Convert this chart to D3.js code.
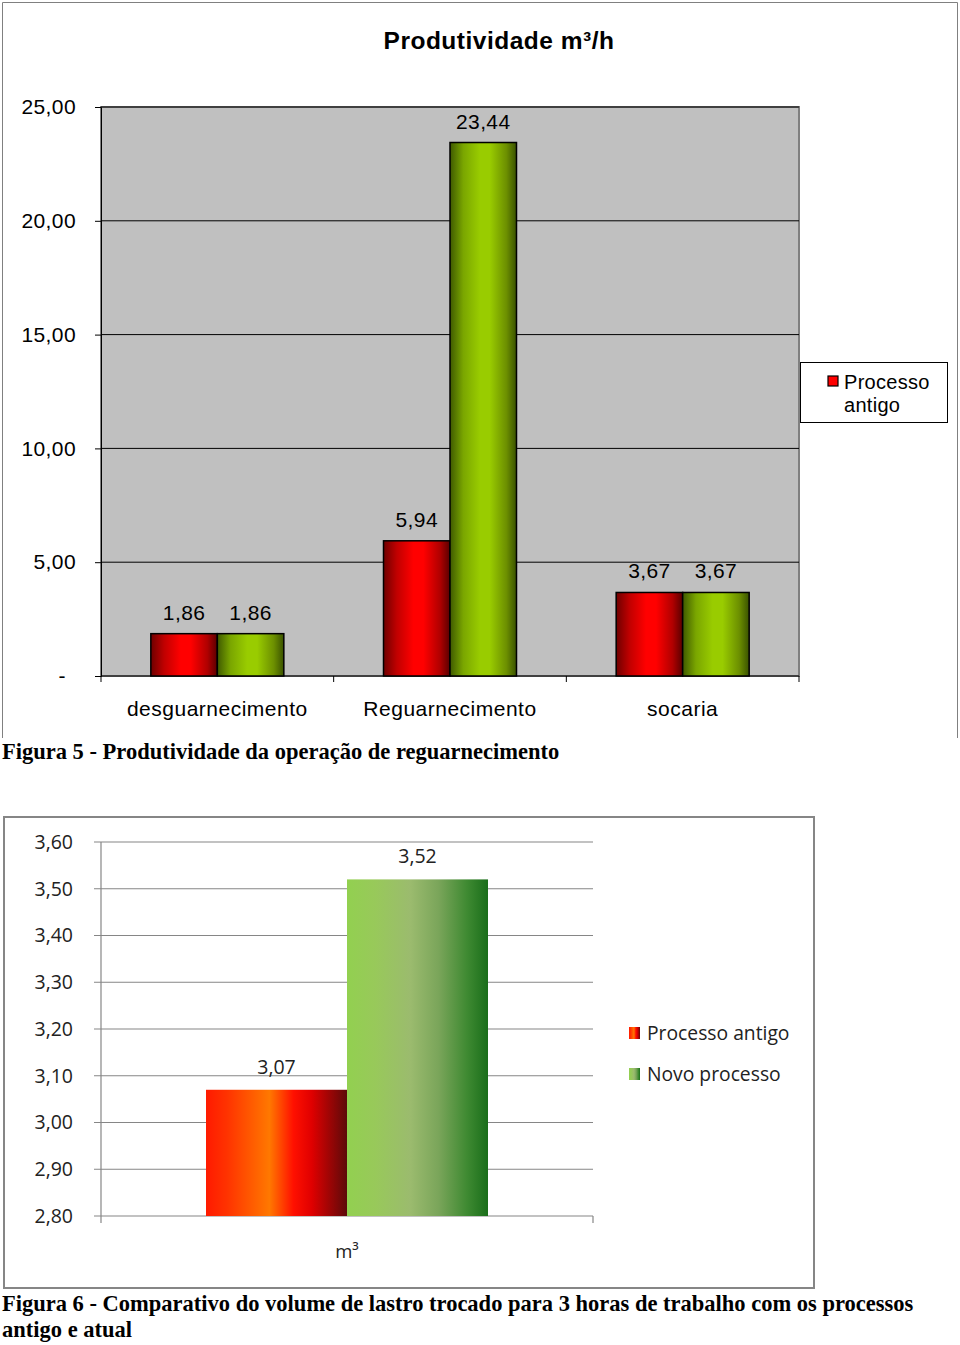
<!DOCTYPE html>
<html>
<head>
<meta charset="utf-8">
<script src="https://cdn.jsdelivr.net/npm/d3@7"></script>
<style>
html,body{margin:0;padding:0;background:#fff;}
svg{display:block;}
</style>
</head>
<body>
<script>
// ---------- DATA ----------
const categories1 = ["desguarnecimento", "Reguarnecimento", "socaria"];
const antigo1 = [1.86, 5.94, 3.67];
const novo1 = [1.86, 23.44, 3.67];
const yTicks1 = [0, 5, 10, 15, 20, 25];
const title1 = "Produtividade m³/h";
const legend1 = ["Processo", "antigo"];
const caption1 = "Figura 5 - Produtividade da operação de reguarnecimento";

const categories2 = ["m³"];
const antigo2 = [3.07];
const novo2 = [3.52];
const yTicks2 = [2.8, 2.9, 3.0, 3.1, 3.2, 3.3, 3.4, 3.5, 3.6];
const legend2 = ["Processo antigo", "Novo processo"];
const caption2a = "Figura 6 - Comparativo do volume de lastro trocado para 3 horas de trabalho com os processos";
const caption2b = "antigo e atual";

const fmt = v => d3.format(".2f")(v).replace(".", ",");
const F1 = "Liberation Sans, Arial";
const F2 = "Open Sans, Lato";
const FS = "Liberation Serif, Times New Roman";

const svg = d3.select("body").append("svg").attr("width", 960).attr("height", 1345);
const defs = svg.append("defs");

function grad(id, stops) {
  const g = defs.append("linearGradient").attr("id", id).attr("x1", "0%").attr("x2", "100%").attr("y1", "0%").attr("y2", "0%");
  stops.forEach(s => g.append("stop").attr("offset", s[0]).attr("stop-color", s[1]));
}
grad("red1", [["0%", "#6e0000"], ["20%", "#c00000"], ["45%", "#ff0000"], ["60%", "#ff0000"], ["85%", "#b00000"], ["100%", "#5a0000"]]);
grad("green1", [["0%", "#3f5a00"], ["20%", "#7aa600"], ["45%", "#99cc00"], ["60%", "#99cc00"], ["85%", "#6c8f00"], ["100%", "#3a5200"]]);
grad("red2", [["0%", "#ff1a00"], ["15%", "#ff3300"], ["45%", "#ff7800"], ["62%", "#ff1000"], ["75%", "#e00000"], ["100%", "#5c0a0a"]]);
grad("green2", [["0%", "#92d050"], ["20%", "#98c95a"], ["45%", "#9bbb6e"], ["65%", "#7aa55a"], ["85%", "#3f8a32"], ["100%", "#1a6e1a"]]);

// ---------- CHART 1 ----------
const c1 = svg.append("g");
c1.append("path").attr("d", "M2.5,738 L2.5,2.5 L957.5,2.5 L957.5,738").attr("fill", "none").attr("stroke", "#808080").attr("stroke-width", 1);

const x1 = d3.scaleBand().domain(categories1).range([101, 799]).paddingInner(0).paddingOuter(0);
const y1 = d3.scaleLinear().domain([0, 25]).range([676, 107]);

c1.append("rect").attr("x", 101).attr("y", y1(25)).attr("width", 698).attr("height", y1(0) - y1(25)).attr("fill", "#c0c0c0");
c1.append("rect").attr("x", 101).attr("y", y1(25)).attr("width", 698).attr("height", y1(0) - y1(25)).attr("fill", "none").attr("stroke", "#808080").attr("stroke-width", 2);

// gridlines
c1.selectAll("line.grid").data(yTicks1.filter(d => d > 0)).enter().append("line")
  .attr("x1", 101).attr("x2", 799).attr("y1", d => y1(d)).attr("y2", d => y1(d))
  .attr("stroke", "#000").attr("stroke-width", 1);

// y axis
const ya1 = d3.axisLeft(y1).tickValues(yTicks1).tickSize(6).tickPadding(19).tickFormat(d => d === 0 ? "-" : fmt(d));
const gy1 = c1.append("g").attr("transform", "translate(101,0)").call(ya1);
gy1.select(".domain").attr("stroke", "#000");
gy1.selectAll(".tick line").attr("stroke", "#000");
gy1.selectAll(".tick text").attr("font-family", F1).attr("font-size", 21).attr("letter-spacing", 0.4).attr("fill", "#000");
gy1.selectAll(".tick text").filter(d => d === 0).attr("dx", -10);

// x axis
c1.append("line").attr("x1", 101).attr("x2", 799).attr("y1", 676).attr("y2", 676).attr("stroke", "#000");
const xt = [101].concat(categories1.map(c => x1(c) + x1.bandwidth()));
c1.selectAll("line.xt").data(xt).enter().append("line").attr("x1", d => d).attr("x2", d => d).attr("y1", 676).attr("y2", 682).attr("stroke", "#000");
c1.selectAll("text.cat").data(categories1).enter().append("text")
  .attr("x", d => x1(d) + x1.bandwidth() / 2).attr("y", 716).attr("text-anchor", "middle")
  .attr("font-family", F1).attr("font-size", 21).attr("letter-spacing", 0.5).text(d => d);

const bw1 = 66.5;
categories1.forEach((c, i) => {
  const cx = x1(c) + x1.bandwidth() / 2;
  [[antigo1[i], "red1", cx - bw1], [novo1[i], "green1", cx]].forEach(([v, g, bx]) => {
    c1.append("rect").attr("x", bx).attr("y", y1(v)).attr("width", bw1).attr("height", y1(0) - y1(v))
      .attr("fill", `url(#${g})`).attr("stroke", "#000").attr("stroke-width", 1.5);
    c1.append("text").attr("x", bx + bw1 / 2).attr("y", y1(v) - 14).attr("text-anchor", "middle")
      .attr("font-family", F1).attr("font-size", 21).attr("letter-spacing", 0.4).text(fmt(v));
  });
});

c1.append("text").attr("x", 499).attr("y", 49).attr("text-anchor", "middle")
  .attr("font-family", F1).attr("font-weight", "bold").attr("font-size", 24.5).attr("letter-spacing", 0.5).text(title1);

// legend 1
c1.append("rect").attr("x", 800.5).attr("y", 362.5).attr("width", 147).attr("height", 60).attr("fill", "#fff").attr("stroke", "#000");
c1.append("rect").attr("x", 828).attr("y", 376).attr("width", 10).attr("height", 10).attr("fill", "#ff0000").attr("stroke", "#000").attr("stroke-width", 1.2);
c1.selectAll("text.leg").data(legend1).enter().append("text")
  .attr("x", 844).attr("y", (d, i) => 389 + i * 23).attr("font-family", F1).attr("font-size", 20).attr("letter-spacing", 0.3).text(d => d);

svg.append("text").attr("x", 2).attr("y", 759).attr("font-family", FS).attr("font-weight", "bold").attr("font-size", 22.5).text(caption1);

// ---------- CHART 2 ----------
const c2 = svg.append("g");
c2.append("rect").attr("x", 4).attr("y", 817).attr("width", 810).attr("height", 471).attr("fill", "#fff").attr("stroke", "#868686").attr("stroke-width", 2);

const x2 = d3.scaleBand().domain(categories2).range([101, 593]);
const y2 = d3.scaleLinear().domain([2.8, 3.6]).range([1216, 842]);

c2.selectAll("line.grid").data(yTicks2).enter().append("line")
  .attr("x1", 94).attr("x2", 593).attr("y1", d => y2(d)).attr("y2", d => y2(d))
  .attr("stroke", "#868686").attr("stroke-width", 1.2);
c2.append("line").attr("x1", 101).attr("x2", 101).attr("y1", 842).attr("y2", 1216).attr("stroke", "#868686").attr("stroke-width", 1.2);
c2.append("line").attr("x1", 593).attr("x2", 593).attr("y1", 1216).attr("y2", 1223).attr("stroke", "#868686").attr("stroke-width", 1.2);
c2.append("line").attr("x1", 101).attr("x2", 101).attr("y1", 1216).attr("y2", 1223).attr("stroke", "#868686").attr("stroke-width", 1.2);

const ya2 = d3.axisLeft(y2).tickValues(yTicks2).tickSize(0).tickPadding(28).tickFormat(fmt);
const gy2 = c2.append("g").attr("transform", "translate(101,0)").call(ya2);
gy2.select(".domain").remove();
gy2.selectAll(".tick text").attr("font-family", F2).attr("font-size", 19.5).attr("fill", "#222");

const bw2 = 141;
categories2.forEach((c, i) => {
  const cx = x2(c) + x2.bandwidth() / 2;
  [[antigo2[i], "red2", cx - bw2], [novo2[i], "green2", cx]].forEach(([v, g, bx]) => {
    c2.append("rect").attr("x", bx).attr("y", y2(v)).attr("width", bw2).attr("height", y2(2.8) - y2(v)).attr("fill", `url(#${g})`);
    c2.append("text").attr("x", bx + bw2 / 2).attr("y", y2(v) - 16).attr("text-anchor", "middle")
      .attr("font-family", F2).attr("font-size", 19.5).attr("fill", "#222").text(fmt(v));
  });
  c2.append("text").attr("x", cx).attr("y", 1258).attr("text-anchor", "middle")
    .attr("font-family", F2).attr("font-size", 18.5).attr("fill", "#222").text(c);
});

// legend 2
[["red2", legend2[0]], ["green2", legend2[1]]].forEach(([g, t], i) => {
  c2.append("rect").attr("x", 629).attr("y", 1027 + i * 41).attr("width", 11).attr("height", 12).attr("fill", `url(#${g})`);
  c2.append("text").attr("x", 647).attr("y", 1040 + i * 41).attr("font-family", F2).attr("font-size", 19.3).attr("fill", "#222").text(t);
});

svg.append("text").attr("x", 2).attr("y", 1311).attr("font-family", FS).attr("font-weight", "bold").attr("font-size", 22.5).text(caption2a);
svg.append("text").attr("x", 2).attr("y", 1337).attr("font-family", FS).attr("font-weight", "bold").attr("font-size", 22.5).text(caption2b);
</script>
</body>
</html>
